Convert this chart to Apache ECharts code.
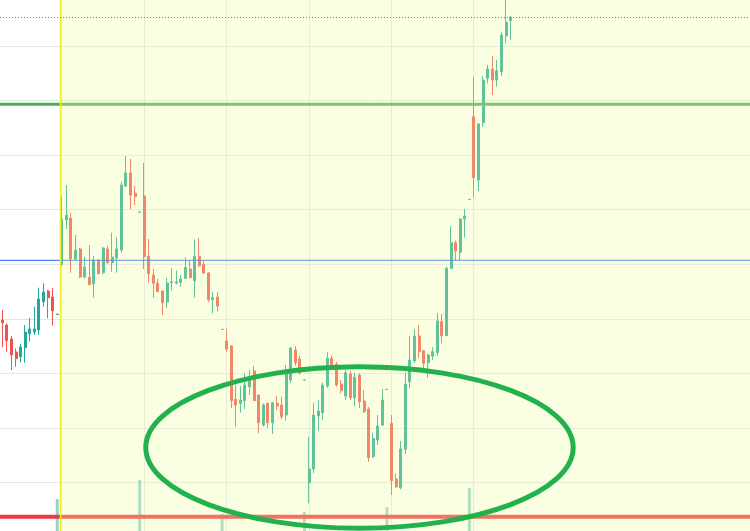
<!DOCTYPE html>
<html>
<head>
<meta charset="utf-8">
<script src="https://cdn.jsdelivr.net/npm/echarts@6/dist/echarts.min.js"></script>
<style>
html,body{margin:0;padding:0;background:#ffffff;}
#chart{width:750px;height:531px;}
</style>
</head>
<body>
<div id="chart"></div>
<script>
// ---- data (price units, no axis labels in the original) ----
const slotCount = 164;
const categories = Array.from({length: slotCount}, (_, i) => 'T' + (i + 1));

const opens = [
2.17, 2.12, 1.98, 1.85, 1.803, 1.893, 2.033, 2.05, 2.07, 2.353,
2.46, 2.40, 2.225, 2.723, 3.17, 3.187, 2.78, 2.88, 2.60, 2.597,
2.533, 2.767, 2.643, 2.88, 2.743, 2.79, 2.87, 3.51, 3.64, 3.44,
3.248, 3.41, 2.81, 2.62, 2.537, 2.46, 2.35, 2.543, 2.537, 2.547,
2.587, 2.68, 2.563, 2.807, 2.727, 2.64, 2.373, 2.40, 2.075, 1.96,
1.91, 1.377, 1.337, 1.363, 1.503, 1.66, 1.42, 1.12, 1.337, 1.143,
1.337, 1.32, 1.22, 1.57, 1.87, 1.78, 1.567, 0.543, 0.68, 1.21,
1.243, 1.51, 1.787, 1.727, 1.53, 1.41, 1.63, 1.393, 1.62, 1.36,
1.28, 0.803, 0.97, 1.12, 1.475, 1.137, 0.58, 0.493, 0.877, 1.553,
1.76, 2.01, 1.863, 1.743, 1.81, 1.843, 2.153, 2.013, 2.687, 2.943,
2.847, 3.18, 3.375, 4.203, 3.57, 4.143, 4.587, 4.68, 4.57, 4.653,
5.01, 5.163
];
const closes = [
2.143, 1.963, 1.82, 1.783, 1.90, 2.05, 2.08, 2.08, 2.38, 2.45,
2.393, 2.26, 2.23, 3.18, 3.22, 2.78, 2.87, 2.60, 2.697, 2.523,
2.767, 2.633, 2.89, 2.743, 2.80, 2.88, 3.52, 3.64, 3.42, 3.403,
3.25, 2.803, 2.633, 2.537, 2.453, 2.343, 2.54, 2.553, 2.553, 2.58,
2.697, 2.593, 2.807, 2.713, 2.64, 2.373, 2.393, 2.31, 2.077, 1.88,
1.363, 1.32, 1.37, 1.52, 1.597, 1.363, 1.143, 1.32, 1.143, 1.343,
1.31, 1.203, 1.63, 1.89, 1.743, 1.64, 1.57, 0.68, 1.22, 1.26,
1.52, 1.787, 1.703, 1.52, 1.463, 1.643, 1.393, 1.597, 1.353, 1.253,
0.793, 0.987, 1.11, 1.37, 1.477, 0.563, 0.503, 0.88, 1.53, 1.77,
2.01, 1.853, 1.737, 1.82, 1.853, 2.16, 2.013, 2.687, 2.943, 2.863,
3.18, 3.21, 3.377, 3.593, 4.13, 4.57, 4.68, 4.57, 4.663, 5.02,
5.147, 5.197
];
const lows = [
1.897, 1.853, 1.67, 1.703, 1.747, 1.743, 1.953, 2.02, 2.02, 2.303,
2.187, 2.113, 2.225, 2.715, 3.08, 2.643, 2.77, 2.59, 2.585, 2.52,
2.393, 2.625, 2.627, 2.735, 2.653, 2.643, 2.843, 3.50, 3.28, 3.32,
3.248, 2.68, 2.543, 2.393, 2.45, 2.22, 2.293, 2.463, 2.527, 2.503,
2.58, 2.587, 2.393, 2.697, 2.63, 2.35, 2.237, 2.255, 2.075, 1.853,
1.287, 1.103, 1.243, 1.28, 1.42, 1.36, 1.037, 1.103, 1.093, 1.03,
1.27, 1.177, 1.163, 1.54, 1.71, 1.625, 1.567, 0.337, 0.637, 1.063,
1.17, 1.49, 1.67, 1.503, 1.437, 1.37, 1.37, 1.303, 1.287, 1.24,
0.753, 0.787, 0.92, 1.11, 1.475, 0.42, 0.487, 0.477, 0.83, 1.487,
1.737, 1.787, 1.687, 1.593, 1.77, 1.81, 1.937, 2.01, 2.68, 2.77,
2.77, 2.993, 3.375, 3.393, 3.46, 4.103, 4.537, 4.42, 4.503, 4.61,
4.937, 4.97
];
const highs = [
2.27, 2.135, 2.01, 1.885, 1.93, 2.12, 2.19, 2.303, 2.493, 2.537,
2.47, 2.49, 2.23, 3.403, 3.52, 3.24, 3.02, 2.89, 2.80, 2.92,
2.81, 2.78, 2.90, 2.91, 3.043, 2.993, 3.553, 3.81, 3.78, 3.51,
3.25, 3.74, 2.98, 2.68, 2.58, 2.47, 2.59, 2.687, 2.663, 2.62,
2.797, 2.77, 2.977, 2.99, 2.767, 2.65, 2.45, 2.45, 2.077, 2.083,
1.92, 1.52, 1.51, 1.637, 1.67, 1.71, 1.43, 1.337, 1.343, 1.343,
1.41, 1.403, 1.72, 1.90, 1.91, 1.813, 1.57, 1.003, 1.343, 1.37,
1.543, 1.847, 1.813, 1.75, 1.57, 1.67, 1.66, 1.637, 1.637, 1.47,
1.30, 1.043, 1.22, 1.48, 1.477, 1.22, 0.637, 0.96, 1.643, 2.01,
2.077, 2.12, 1.87, 1.83, 1.897, 2.237, 2.23, 2.703, 3.11, 2.963,
3.187, 3.28, 3.377, 4.603, 4.14, 4.61, 4.72, 4.81, 4.77, 5.047,
5.39, 5.213
];

const volumeIndex = [12, 30, 48, 66, 84, 102];
const volumeValues = [60, 96, 32, 36, 45, 81];

const resistanceLevel = 4.327;   // green horizontal
const pivotLevel = 2.767;        // blue horizontal
const supportLevel = 0.203;      // red horizontal
const sessionStarts = [13, 31, 49, 67, 85, 103];
const highlightStart = 13;

// annotation ellipse (data space: category index, price)
const ellipseCenter = [78.0, 0.895];
const ellipseRadius = [46.67, 0.807];

// ---- build ----
const candleData = opens.map((o, i) => [o, closes[i], lows[i], highs[i]]);
const volumeData = opens.map(() => '-');
volumeIndex.forEach((k, j) => { volumeData[k] = volumeValues[j]; });

const UP = '#26a69a', DOWN = '#ef5350', GRID = '#e1e5ec';

const chart = echarts.init(document.getElementById('chart'), null, {renderer: 'canvas'});
const option = {
  animation: false,
  backgroundColor: '#ffffff',
  grid: [
    {left: 0, right: -1, top: -8.5, bottom: -6, outerBoundsMode: 'none', containLabel: false},
    {left: 0, right: -1, top: 0, bottom: 0, outerBoundsMode: 'none', containLabel: false}
  ],
  xAxis: [
    {type: 'category', gridIndex: 0, data: categories, boundaryGap: true,
     axisLine: {show: false}, axisTick: {show: false}, axisLabel: {show: false}, splitLine: {show: false}},
    {type: 'category', gridIndex: 1, data: categories, boundaryGap: true,
     axisLine: {show: false}, axisTick: {show: false}, axisLabel: {show: false}, splitLine: {show: false}}
  ],
  yAxis: [
    {type: 'value', gridIndex: 0, min: 0, max: 5.455, interval: 0.5455, scale: false,
     axisLine: {show: false}, axisTick: {show: false}, axisLabel: {show: false},
     splitLine: {show: true, lineStyle: {color: GRID, width: 1}}},
    {type: 'value', gridIndex: 1, min: 0, max: 1000,
     axisLine: {show: false}, axisTick: {show: false}, axisLabel: {show: false}, splitLine: {show: false}}
  ],
  series: [
    {type: 'bar', xAxisIndex: 1, yAxisIndex: 1, data: volumeData, barWidth: 3,
     itemStyle: {color: 'rgba(38,166,154,0.5)'}, silent: true},
    {type: 'candlestick', xAxisIndex: 0, yAxisIndex: 0, data: candleData, barWidth: 2.5,
     itemStyle: {color: UP, color0: DOWN, borderColor: UP, borderColor0: DOWN, borderWidth: 1},
     silent: true}
  ]
};
chart.setOption(option);

// ---- decorations positioned through the axes ----
const px = i => chart.convertToPixel({xAxisIndex: 0}, i);
const py = v => chart.convertToPixel({yAxisIndex: 0}, v);
const W = chart.getWidth(), H = chart.getHeight();
const x0 = px(0), cw = px(1) - px(0);
const fx = f => x0 + f * cw;
const crisp = v => Math.floor(v) + 0.5;

const els = [];
sessionStarts.forEach(i => {
  const x = crisp(px(i));
  els.push({type: 'line', z: 1, silent: true, shape: {x1: x, y1: 0, x2: x, y2: H},
            style: {stroke: GRID, lineWidth: 1}});
});
[[resistanceLevel, '#4caf50', 3], [pivotLevel, '#2962ff', 1], [supportLevel, '#f23645', 4]].forEach(([v, c, lw]) => {
  const y = py(v);
  els.push({type: 'line', z: 3, silent: true, shape: {x1: 0, y1: y, x2: W, y2: y},
            style: {stroke: c, lineWidth: lw}});
});
const xs = px(highlightStart) - 1.3;
els.push({type: 'rect', z: 10, silent: true, shape: {x: xs, y: 0, width: W - xs, height: H},
          style: {fill: 'rgba(242,255,160,0.3)'}});
els.push({type: 'line', z: 11, silent: true, shape: {x1: xs, y1: 0, x2: xs, y2: H},
          style: {stroke: '#f0f020', lineWidth: 1.5}});
const lastY = crisp(py(closes[closes.length - 1]));
els.push({type: 'line', z: 11, silent: true, shape: {x1: 0, y1: lastY, x2: W, y2: lastY},
          style: {stroke: '#26a69a', lineWidth: 1, lineDash: [1, 2]}});
els.push({type: 'ellipse', z: 12, silent: true,
          shape: {cx: fx(ellipseCenter[0]), cy: py(ellipseCenter[1]),
                  rx: ellipseRadius[0] * cw, ry: py(0) - py(ellipseRadius[1])},
          style: {fill: 'none', stroke: '#22b14c', lineWidth: 5}});
chart.setOption({graphic: {elements: els}});
</script>
</body>
</html>
